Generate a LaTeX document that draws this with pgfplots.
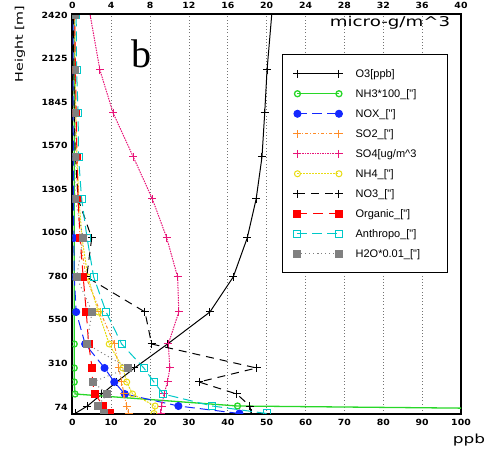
\documentclass[border=0pt]{standalone}
\usepackage{fontspec}
\setmainfont{Liberation Sans}
\usepackage{pgfplots}
\pgfplotsset{compat=1.18}
\usepackage{pgfplotstable}
\newfontfamily\tickfont[FakeStretch=1.1]{DejaVu Sans}
\newfontfamily\labfont[FakeStretch=1.35]{DejaVu Sans}
\newfontfamily\legfont{Liberation Sans}
\newfontfamily\bfont{Liberation Serif}
\definecolor{cgreen}{RGB}{40,215,40}
\definecolor{cblue}{RGB}{20,40,255}
\definecolor{corange}{RGB}{255,140,40}
\definecolor{cpink}{RGB}{232,20,120}
\definecolor{cyellow}{RGB}{232,220,20}
\definecolor{cred}{RGB}{255,0,0}
\definecolor{ccyan}{RGB}{0,200,200}
\definecolor{cgray}{RGB}{128,128,128}
\pgfplotstableread{
p    O3   NH3  NOX  SO2  SO4  NH4  NO3  Org  Anth  H2O
0.5  0.7  245  43   14.5 22.8 21.0 46.0 9.7  50.0  8.2
8    3.9  42.5 27.3 14.0 23.0 21.3 45.7 8.0  36.0  6.5
20   7.6  0.7  13.5 13.3 23.6 15.5 42.3 5.8  23.4  9.0
32   11.4 0.5  10.8 12.7 24.5 14.0 32.6 5.2  21.0  5.3
46   16.0 0.5  8.3  12.0 25.1 13.0 47.4 5.1  18.4  14.3
70   24.5 0.5  3.3  10.8 24.7 9.5  20.4 4.2  12.7  3.7
102  35.4 0.5  1.0  7.2  27.4 6.7  18.7 3.6  8.7   5.1
137  41.4 0.5  0.5  3.5  27.1 4.0  3.7  2.8  5.5   1.1
176  45.0 0.5  0.4  2.0  24.3 2.5  5.0  2.0  3.8   2.8
215  47.3 0.5  0.3  1.4  20.6 1.7  1.5  1.5  2.4   0.7
257  48.8 0.5  0.3  1.1  15.7 1.2  0.8  1.2  1.6   0.7
301  49.5 0.5  0.2  0.9  10.5 0.9  0.5  1.0  1.5   0.7
344  50.1 0.5  0.2  0.7  7.1  0.7  0.4  0.8  1.1   0.7
399  51.3 0.5  0.2  0.6  4.6  0.6  0.3  0.6  1.0   0.6
}\data
\newcommand{\lt}[1]{\makebox[81bp][l]{#1}}
\begin{document}
\begin{tikzpicture}
\begin{axis}[
 at={(0,0)}, anchor=south west,
 scale only axis, width=388.7bp, height=400bp,
 xmin=0, xmax=100, ymin=0, ymax=400,
 xtick={0,10,...,100}, xticklabels={0,10,20,30,40,50,60,70,80,90,100},
 ytick={7,50.56,94.11,137.67,181.22,224.78,268.33,311.89,355.44,399},
 yticklabels={74,310,550,780,1050,1305,1570,1845,2125,2420},
 major tick length=0pt,
 xmajorgrids, major x grid style={black!55, dash pattern=on 0.8bp off 2.4bp, line width=0.8bp},
 axis line style={line width=2.4bp},
 tick label style={font=\tickfont\bfseries\fontsize{8.5bp}{9bp}\selectfont, inner sep=0pt},
 xticklabel style={yshift=-5bp},
 yticklabel style={xshift=-4.5bp},
 clip marker paths=true,
 legend cell align=left,
 legend style={at={(axis cs:53.95,359.7)}, anchor=north west, draw=black, line width=0.9bp, fill=white,
   inner xsep=11bp, inner ysep=9bp, row sep=0pt, column sep=12.7bp,
   font=\legfont\fontsize{11bp}{12bp}\selectfont,
   nodes={inner sep=0pt, text height=13.5bp, text depth=6.5bp}},
 legend image code/.code={\draw[mark repeat=2,mark phase=1,#1] plot coordinates {(0bp,0bp)(20.75bp,0bp)(41.5bp,0bp)};},
]
\addplot[black, line width=1bp, mark=+, mark size=4bp, mark options={solid}] table[x=O3,y=p]{\data};
\addlegendentry{\lt{O3[ppb]}}
\addplot[cgreen, line width=1.3bp, mark=o, mark size=3bp, mark options={solid}] table[x=NH3,y=p]{\data};
\addlegendentry{\lt{NH3*100\_["]}}
\addplot[cblue, line width=1bp, dash pattern=on 10bp off 5bp, mark=*, mark size=3.5bp, mark options={solid}] table[x=NOX,y=p]{\data};
\addlegendentry{\lt{NOX\_["]}}
\addplot[corange, line width=1bp, dash pattern=on 3bp off 2bp on 1bp off 2bp, mark=+, mark size=4bp, mark options={solid}] table[x=SO2,y=p]{\data};
\addlegendentry{\lt{SO2\_["]}}
\addplot[cpink, line width=1bp, dash pattern=on 1.5bp off 1bp, mark=+, mark size=4bp, mark options={solid}] table[x=SO4,y=p]{\data};
\addlegendentry{\lt{SO4[ug/m\textasciicircum 3}}
\addplot[cyellow, line width=1bp, dash pattern=on 2bp off 1bp, mark=o, mark size=3bp, mark options={solid}] table[x=NH4,y=p]{\data};
\addlegendentry{\lt{NH4\_["]}}
\addplot[black, line width=1bp, dash pattern=on 8bp off 6bp, mark=+, mark size=4bp, mark options={solid}] table[x=NO3,y=p]{\data};
\addlegendentry{\lt{NO3\_["]}}
\addplot[cred, line width=1bp, dash pattern=on 10bp off 6bp, mark=square*, mark size=3.5bp, mark options={solid}] table[x=Org,y=p]{\data};
\addlegendentry{\lt{Organic\_["]}}
\addplot[ccyan, line width=1bp, dash pattern=on 10bp off 5bp, mark=square, mark size=3.5bp, mark options={solid}] table[x=Anth,y=p]{\data};
\addlegendentry{\lt{Anthropo\_["]}}
\addplot[cgray, line width=1bp, dash pattern=on 1bp off 3bp, mark=square*, mark size=3.5bp, mark options={solid}] table[x=H2O,y=p]{\data};
\addlegendentry{\lt{H2O*0.01\_["]}}
\end{axis}
\begin{axis}[
 at={(0,0)}, anchor=south west,
 scale only axis, width=388.7bp, height=400bp,
 xmin=0, xmax=40, ymin=0, ymax=400,
 axis x line*=top, axis y line=none,
 xtick={0,4,...,40}, xticklabels={0,4,8,12,16,20,24,28,32,36,40},
 major tick length=0pt,
 axis line style={line width=2.4bp},
 tick label style={font=\tickfont\bfseries\fontsize{8.5bp}{9bp}\selectfont, inner sep=0pt},
 xticklabel style={yshift=5bp},
]
\end{axis}
\node[font=\labfont\fontsize{13.5bp}{14bp}\selectfont] at (317.7bp,391bp) {micro-g/m\textasciicircum 3};
\node[font=\labfont\fontsize{12.5bp}{13bp}\selectfont] at (396.7bp,-26bp) {ppb};
\node[font=\labfont\fontsize{10.6bp}{11bp}\selectfont, rotate=90] at (-52.3bp,370bp) {Height [m]};
\node[font=\bfont\fontsize{40bp}{40bp}\selectfont] at (68.7bp,360bp) {b};
\pgfresetboundingbox
\path (-72.3bp,-38bp) rectangle (412.7bp,414bp);
\end{tikzpicture}
\end{document}
